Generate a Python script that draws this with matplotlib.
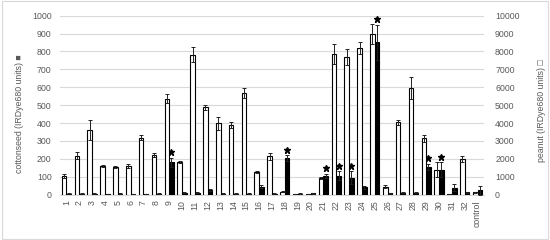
import numpy as np
import matplotlib.pyplot as plt
from matplotlib.patches import Rectangle

labels = [str(i) for i in range(1, 33)] + ["control"]

# peanut (right axis, IRDye680 units) - white bars
peanut = [1050, 2180, 3600, 1600, 1550, 1600, 3180, 2220, 5350, 1830,
          7820, 4880, 3980, 3880, 5680, 1280, 2150, 150, 20, 30,
          950, 7860, 7680, 8200, 8960, 450, 4030, 5950, 3150, 1400,
          30, 2000, 120]
peanut_err = [120, 180, 550, 80, 50, 120, 150, 100, 250, 50,
              420, 150, 350, 150, 300, 50, 200, 30, 0, 0,
              50, 550, 450, 350, 550, 100, 150, 600, 200, 400,
              0, 150, 50]

# cottonseed (left axis, IRDye680 units) - black bars
cotton = [5, 5, 5, 3, 5, 3, 3, 5, 180, 10,
          10, 25, 5, 5, 5, 45, 5, 205, 5, 8,
          103, 105, 95, 40, 850, 8, 10, 10, 155, 140,
          38, 12, 25]
cotton_err = [2, 2, 2, 1, 2, 1, 1, 2, 25, 2,
              2, 5, 2, 2, 2, 8, 2, 15, 2, 2,
              12, 25, 35, 10, 100, 2, 2, 2, 15, 40,
              20, 5, 25]
starred = [9, 18, 21, 22, 23, 25, 29, 30]

grey = "#595959"
plt.rcParams["font.family"] = ["Liberation Sans", "DejaVu Sans"]

fig = plt.figure(figsize=(5.5, 2.4), dpi=100)
ax = fig.add_axes([0.109, 0.189, 0.771, 0.746])
ax2 = ax.twinx()

x = np.arange(len(labels))
w = 0.36
ek = dict(ecolor="#222222", elinewidth=0.7, capsize=1.6, capthick=0.7)

ax2.bar(x - w / 2, peanut, w, color="white", edgecolor="black", linewidth=0.8,
        yerr=peanut_err, error_kw=ek, zorder=3)
ax.bar(x + w / 2, cotton, w, color="black", edgecolor="black", linewidth=0.8,
       yerr=cotton_err, error_kw=ek, zorder=3)

for s in starred:
    i = s - 1
    ax.plot(x[i] + w / 2, cotton[i] + cotton_err[i] + 32, marker="*",
            color="black", markersize=5, zorder=4, clip_on=False)

ax.set_ylim(0, 1000)
ax2.set_ylim(0, 10000)
ax.set_xlim(-0.5, len(labels) - 0.5)
ax.set_yticks(np.arange(0, 1001, 100))
ax2.set_yticks(np.arange(0, 10001, 1000))
ax.yaxis.grid(True, color="#d9d9d9", linewidth=0.8, zorder=0)
ax.set_axisbelow(True)

ax.set_xticks(x)
ax.set_xticklabels(labels, rotation=90)
for a in (ax, ax2):
    for sp in a.spines.values():
        sp.set_visible(False)
    a.tick_params(length=0, labelsize=6.3, labelcolor=grey)
ax.spines["bottom"].set_visible(True)
ax.spines["bottom"].set_color("#d9d9d9")
ax.tick_params(axis="y", pad=6)
ax2.tick_params(axis="y", pad=8)
ax.tick_params(axis="x", pad=4)

ax.set_ylabel("cottonseed (IRDye680 units) \u25a0", fontsize=6.3, color=grey,
              family=["Liberation Sans", "DejaVu Sans"])
ax2.set_ylabel("peanut (IRDye680 units) \u25a1", fontsize=6.3, color=grey,
               family=["Liberation Sans", "DejaVu Sans"])
ax.yaxis.set_label_coords(-0.085, 0.45)
ax2.yaxis.set_label_coords(1.125, 0.47)

fig.patches.append(Rectangle((0.003, 0.006), 0.994, 0.988, transform=fig.transFigure,
                             fill=False, edgecolor="#d9d9d9", linewidth=0.8))

fig.savefig("out.png", dpi=100)
